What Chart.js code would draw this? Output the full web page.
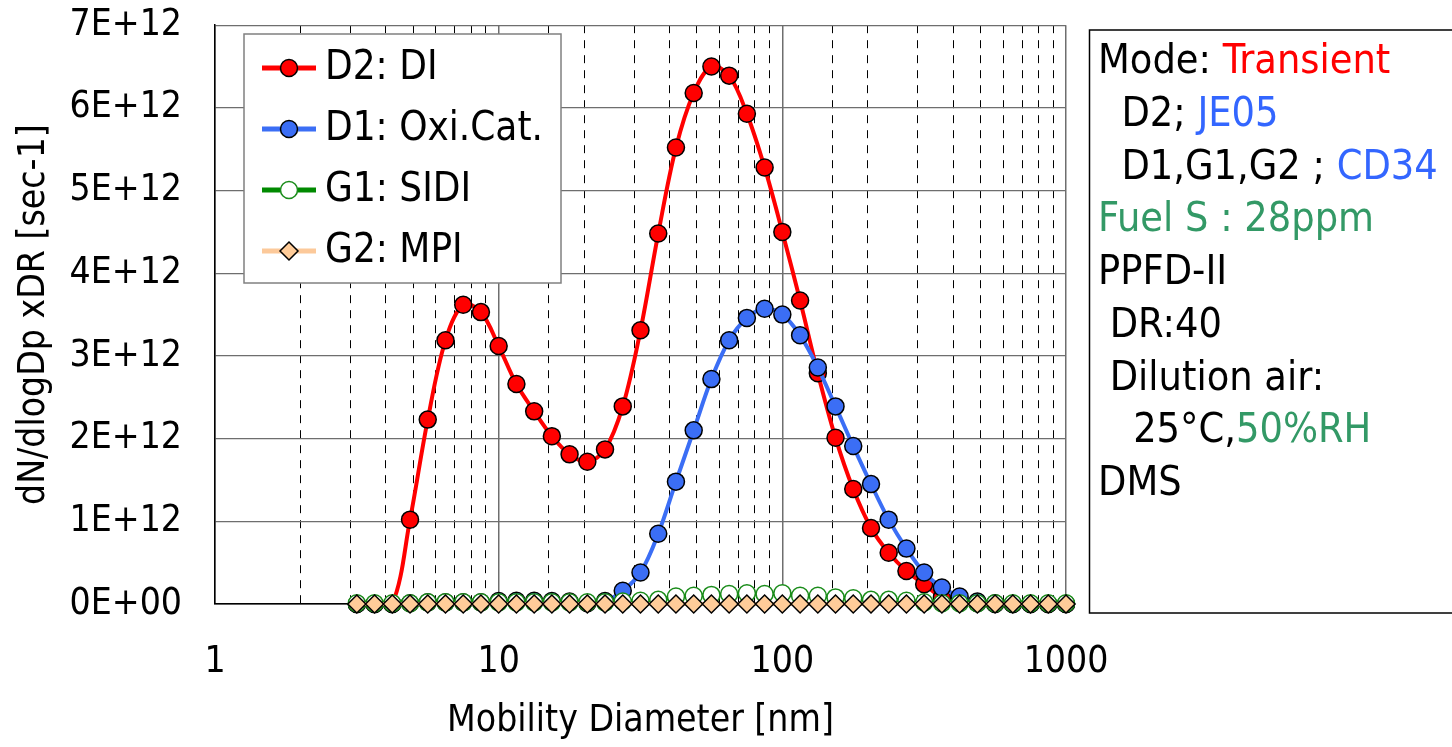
<!DOCTYPE html>
<html>
<head>
<meta charset="utf-8">
<script src="https://cdn.jsdelivr.net/npm/chart.js@4.4.1/dist/chart.umd.min.js"></script>
<style>
html, body { margin: 0; padding: 0; background: #fff; }
canvas { display: block; }
</style>
</head>
<body>
<canvas id="myChart_dms" width="1452" height="747"></canvas>
<script>
var FONT = "'DejaVu Sans Condensed', 'DejaVu Sans', sans-serif";

// DMS size bins [nm]
var diameters = [
    3.162, 3.652, 4.217, 4.870, 5.623, 6.494, 7.499, 8.660,
    10.00, 11.55, 13.34, 15.40, 17.78, 20.54, 23.71, 27.38,
    31.62, 36.52, 42.17, 48.70, 56.23, 64.94, 74.99, 86.60,
    100.0, 115.5, 133.4, 154.0, 177.8, 205.4, 237.1, 273.8,
    316.2, 365.2, 421.7, 487.0, 562.3, 649.4, 749.9, 866.0, 1000
];

// dN/dlogDp xDR, in units of 1E+12
var d2Values = [
    0, 0, 0, 1.02, 2.23, 3.19, 3.62, 3.53,
    3.12, 2.66, 2.33, 2.03, 1.81, 1.72, 1.87, 2.39,
    3.31, 4.48, 5.52, 6.18, 6.50, 6.39, 5.93, 5.28,
    4.50, 3.67, 2.79, 2.01, 1.39, 0.92, 0.62, 0.40,
    0.24, 0.08, 0.03, 0.01, 0, 0, 0, 0, 0
];
var d1Values = [
    0, 0, 0, 0.01, 0.02, 0.02, 0.02, 0.02,
    0.035, 0.04, 0.04, 0.035, 0.03, 0.01, 0.035, 0.16,
    0.38, 0.85, 1.48, 2.10, 2.72, 3.19, 3.46, 3.57,
    3.50, 3.25, 2.86, 2.39, 1.91, 1.45, 1.02, 0.67,
    0.38, 0.20, 0.09, 0.03, 0.01, 0, 0, 0, 0
];
var g1Values = [
    0.01, 0.01, 0.01, 0.01, 0.02, 0.02, 0.02, 0.02,
    0.02, 0.02, 0.02, 0.02, 0.02, 0.02, 0.02, 0.03,
    0.04, 0.05, 0.09, 0.10, 0.11, 0.12, 0.13, 0.12,
    0.13, 0.10, 0.10, 0.08, 0.07, 0.05, 0.05, 0.04,
    0.02, 0.01, 0.01, 0.01, 0.01, 0.01, 0.01, 0.01, 0.01
];
var g2Values = [
    0, 0, 0, 0, 0, 0, 0, 0,
    0, 0, 0, 0, 0, 0, 0, 0,
    0, 0, 0, 0, 0, 0, 0, 0,
    0, 0, 0, 0, 0, 0, 0, 0,
    0, 0, 0, 0, 0, 0, 0, 0, 0
];

var seriesNames = ["D2: DI", "D1: Oxi.Cat.", "G1: SIDI", "G2: MPI"];
var xTickLabels = ["1", "10", "100", "1000"];
var yTickLabels = ["0E+00", "1E+12", "2E+12", "3E+12", "4E+12", "5E+12", "6E+12", "7E+12"];

var infoLines = [
    [["Mode: ", "#000000"], ["Transient", "#ff0000"]],
    [["  D2; ", "#000000"], ["JE05", "#3366ff"]],
    [["  D1,G1,G2 ; ", "#000000"], ["CD34", "#3366ff"]],
    [["Fuel S : 28ppm", "#339966"]],
    [["PPFD-II", "#000000"]],
    [[" DR:40", "#000000"]],
    [[" Dilution air:", "#000000"]],
    [["   25°C,", "#000000"], ["50%RH", "#339966"]],
    [["DMS", "#000000"]]
];

function toPoints(values) {
    return diameters.map(function (d, i) { return { x: d, y: values[i] }; });
}

function isDecade(v) {
    var l = Math.log10(v);
    return Math.abs(l - Math.round(l)) < 1e-6;
}

function drawMarker(ctx, style, x, y, r) {
    ctx.beginPath();
    if (style === "rectRot") {
        ctx.moveTo(x - r, y);
        ctx.lineTo(x, y - r);
        ctx.lineTo(x + r, y);
        ctx.lineTo(x, y + r);
        ctx.closePath();
    } else {
        ctx.arc(x, y, r, 0, Math.PI * 2);
    }
    ctx.fill();
    ctx.stroke();
}

var boxPlugin = {
    id: "boxes",
    afterDraw: function (chart) {
        var ctx = chart.ctx;
        ctx.save();

        // legend inside plot
        ctx.fillStyle = "#ffffff";
        ctx.strokeStyle = "#808080";
        ctx.lineWidth = 1.5;
        ctx.fillRect(244, 34, 317, 249);
        ctx.strokeRect(244, 34, 317, 249);
        ctx.font = "40px " + FONT;
        ctx.textBaseline = "middle";
        ctx.textAlign = "left";
        chart.data.datasets.forEach(function (ds, row) {
            var y = 68 + row * 61;
            ctx.strokeStyle = ds.borderColor;
            ctx.lineWidth = 5;
            ctx.beginPath();
            ctx.moveTo(262, y);
            ctx.lineTo(316, y);
            ctx.stroke();
            ctx.fillStyle = ds.pointBackgroundColor;
            ctx.strokeStyle = ds.pointBorderColor;
            ctx.lineWidth = ds.pointBorderWidth;
            drawMarker(ctx, ds.pointStyle, 289, y, ds.pointRadius);
            ctx.fillStyle = "#000000";
            ctx.fillText(ds.label, 325, y + 1);
        });

        // info box on the right
        ctx.strokeStyle = "#000000";
        ctx.lineWidth = 1.5;
        ctx.strokeRect(1089.5, 30, 400, 583);
        ctx.font = "41px " + FONT;
        ctx.textBaseline = "alphabetic";
        infoLines.forEach(function (parts, row) {
            var x = 1098;
            var y = 73 + row * 52.75;
            parts.forEach(function (p) {
                ctx.fillStyle = p[1];
                ctx.fillText(p[0], x, y);
                x += ctx.measureText(p[0]).width;
            });
        });
        ctx.restore();
    }
};

new Chart("myChart_dms", {
    type: "line",
    data: {
        datasets: [
            {
                label: seriesNames[0],
                data: toPoints(d2Values),
                borderColor: "#ff0000",
                borderWidth: 4,
                pointStyle: "circle",
                pointRadius: 8.5,
                pointBackgroundColor: "#ff0000",
                pointBorderColor: "#000000",
                pointBorderWidth: 1.5,
                tension: 0.35,
                order: 4,
            },
            {
                label: seriesNames[1],
                data: toPoints(d1Values),
                borderColor: "#3b6ef5",
                borderWidth: 4,
                pointStyle: "circle",
                pointRadius: 8.5,
                pointBackgroundColor: "#3b6ef5",
                pointBorderColor: "#000000",
                pointBorderWidth: 1.5,
                tension: 0.35,
                order: 3,
            },
            {
                label: seriesNames[2],
                data: toPoints(g1Values),
                borderColor: "#008a00",
                borderWidth: 4,
                pointStyle: "circle",
                pointRadius: 8.5,
                pointBackgroundColor: "#ffffff",
                pointBorderColor: "#1a8c1a",
                pointBorderWidth: 1.5,
                tension: 0.35,
                order: 2,
            },
            {
                label: seriesNames[3],
                data: toPoints(g2Values),
                borderColor: "#fcc99a",
                borderWidth: 4,
                pointStyle: "rectRot",
                pointRadius: 9,
                pointBackgroundColor: "#ffcc99",
                pointBorderColor: "#000000",
                pointBorderWidth: 1.5,
                tension: 0.35,
                order: 1,
            },
        ],
    },
    options: {
        responsive: false,
        animation: false,
        devicePixelRatio: 1,
        clip: false,
        layout: { padding: { left: 0, top: 25, right: 386, bottom: 0 } },
        plugins: {
            legend: { display: false },
            tooltip: { enabled: false },
        },
        scales: {
            x: {
                type: "logarithmic",
                min: 1,
                max: 1000,
                afterFit: function (scale) { scale.height = 143; },
                ticks: {
                    autoSkip: false,
                    maxRotation: 0,
                    minRotation: 0,
                    padding: 36,
                    color: "#000000",
                    font: { family: FONT, size: 37 },
                    callback: function (v) {
                        return isDecade(v) ? xTickLabels[Math.round(Math.log10(v))] : "";
                    },
                },
                grid: {
                    drawTicks: false,
                    color: function (c) {
                        if (!c.tick) return "#000000";
                        return isDecade(c.tick.value) ? "#6e6e6e" : "#000000";
                    },
                    lineWidth: function (c) {
                        if (!c.tick) return 1;
                        return isDecade(c.tick.value) ? 1.5 : 1;
                    },
                },
                border: {
                    color: "#000000",
                    width: 1.5,
                    dash: function (c) {
                        if (!c.tick) return [];
                        return isDecade(c.tick.value) ? [] : [8, 7];
                    },
                },
                title: {
                    display: true,
                    text: "Mobility Diameter [nm]",
                    color: "#000000",
                    font: { family: FONT, size: 37 },
                    padding: { top: 0, bottom: 3 },
                },
            },
            y: {
                min: 0,
                max: 7,
                afterFit: function (scale) { scale.width = 215; },
                ticks: {
                    stepSize: 1,
                    padding: 3,
                    color: "#000000",
                    font: { family: FONT, size: 37 },
                    callback: function (v, i) { return yTickLabels[i]; },
                },
                grid: {
                    drawTicks: true,
                    tickLength: 30,
                    tickColor: "rgba(0,0,0,0)",
                    color: function (c) {
                        if (c.tick && c.tick.value === 0) return "#000000";
                        return "#6e6e6e";
                    },
                    lineWidth: 1.2,
                },
                border: { color: "#000000", width: 1.5 },
                title: {
                    display: true,
                    text: "dN/dlogDp xDR [sec-1]",
                    color: "#000000",
                    font: { family: FONT, size: 37 },
                    padding: { top: 12, bottom: 0 },
                },
            },
        },
    },
    plugins: [boxPlugin],
});
</script>
</body>
</html>
